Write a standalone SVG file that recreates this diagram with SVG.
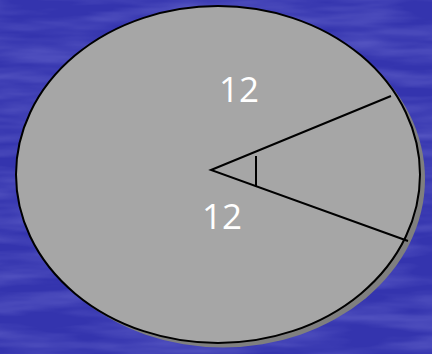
<svg xmlns="http://www.w3.org/2000/svg" width="432" height="354" viewBox="0 0 432 354">
  <defs>
    <filter id="tex" x="0" y="0" width="100%" height="100%">
      <feTurbulence type="fractalNoise" baseFrequency="0.01 0.07" numOctaves="3" seed="4" result="n"/>
      <feColorMatrix in="n" type="matrix" values="0 0 0 0 0.32  0 0 0 0 0.32  0 0 0 0 0.82  0 0 0 0.6 -0.2" result="c"/>
      <feComposite in="c" in2="SourceGraphic" operator="in"/>
    </filter>
    <style>
      .ln { stroke: #000; stroke-width: 2; fill: none; stroke-linecap: butt; }
      .lbl { font-family: "Open Sans", "Noto Sans", sans-serif; font-size: 35px; fill: #ffffff; text-anchor: middle; }
    </style>
  </defs>
  <rect id="bg" width="432" height="354" fill="#3434ae"/>
  <rect width="432" height="354" fill="#ffffff" filter="url(#tex)"/>
  <g id="disk">
    <ellipse cx="223" cy="179" rx="202" ry="168.5" fill="#7f7f7f"/>
    <ellipse cx="218" cy="174.5" rx="202" ry="168.5" fill="#a6a6a6" stroke="#000" stroke-width="2"/>
  </g>
  <g id="connectors">
    <polyline class="ln" points="391,96 211,170 408,241"/>
    <line class="ln" x1="256" y1="156" x2="256" y2="187"/>
  </g>
  <g id="label-top"><text class="lbl" x="239" y="102">12</text></g>
  <g id="label-bottom"><text class="lbl" x="222" y="229">12</text></g>
</svg>
